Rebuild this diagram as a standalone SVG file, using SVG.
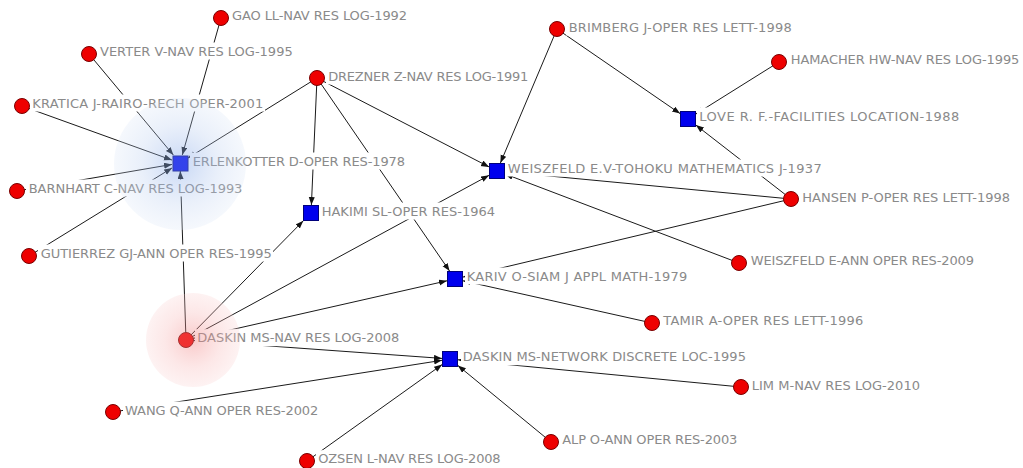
<svg xmlns="http://www.w3.org/2000/svg" width="1023" height="468" viewBox="0 0 1023 468">
<defs>
<marker id="arr" markerUnits="userSpaceOnUse" markerWidth="9" markerHeight="7" refX="8" refY="3" orient="auto">
<path d="M0,0 L8,3 L0,6 z" fill="#111"/>
</marker>
<radialGradient id="gBlue">
<stop offset="0" stop-color="#7aa0e6" stop-opacity="0.42"/>
<stop offset="0.6" stop-color="#b3c9ee" stop-opacity="0.28"/>
<stop offset="1" stop-color="#d8e4f6" stop-opacity="0.25"/>
</radialGradient>
<radialGradient id="gRed">
<stop offset="0" stop-color="#f07878" stop-opacity="0.4"/>
<stop offset="0.6" stop-color="#f6acac" stop-opacity="0.28"/>
<stop offset="1" stop-color="#fad2d2" stop-opacity="0.28"/>
</radialGradient>
</defs>
<style>
.e{stroke:#1a1a1a;stroke-width:1;fill:none;marker-end:url(#arr)}
.bg{fill:#fff}
.t{font-family:"DejaVu Sans","Liberation Sans",sans-serif;font-size:13px;fill:#8a8a8a}
.c{fill:#ee0000;stroke:#7a0000;stroke-width:1}
.s{fill:#0000ee;stroke:#00007a;stroke-width:1}
</style>
<rect width="1023" height="468" fill="#fff"/>
<g id="connectors">
<line class="e" x1="221" y1="18" x2="182.3" y2="155"/>
<line class="e" x1="89" y1="54" x2="173.4" y2="155.1"/>
<line class="e" x1="22" y1="106" x2="172" y2="160.1"/>
<line class="e" x1="17" y1="191" x2="172" y2="164.4"/>
<line class="e" x1="29" y1="256" x2="172.1" y2="167.9"/>
<line class="e" x1="317" y1="78" x2="187.9" y2="158.1"/>
<line class="e" x1="317" y1="78" x2="311.4" y2="205"/>
<line class="e" x1="317" y1="78" x2="449.6" y2="271.1"/>
<line class="e" x1="317" y1="78" x2="489.1" y2="166.9"/>
<line class="e" x1="557" y1="29" x2="500.4" y2="163"/>
<line class="e" x1="557" y1="29" x2="680.1" y2="113.6"/>
<line class="e" x1="779" y1="62" x2="695.9" y2="114"/>
<line class="e" x1="791" y1="199" x2="695.9" y2="125.1"/>
<line class="e" x1="791" y1="199" x2="505" y2="171.8"/>
<line class="e" x1="791" y1="199" x2="463" y2="277.1"/>
<line class="e" x1="739" y1="263" x2="505" y2="174"/>
<line class="e" x1="186" y1="340" x2="180.3" y2="171"/>
<line class="e" x1="186" y1="340" x2="303.3" y2="220.8"/>
<line class="e" x1="186" y1="340" x2="489.1" y2="175.3"/>
<line class="e" x1="186" y1="340" x2="447" y2="280.8"/>
<line class="e" x1="186" y1="340" x2="442" y2="358.4"/>
<line class="e" x1="652" y1="323" x2="463" y2="280.8"/>
<line class="e" x1="113" y1="412" x2="442" y2="360.3"/>
<line class="e" x1="307" y1="461" x2="442.1" y2="364.6"/>
<line class="e" x1="551" y1="442" x2="457.9" y2="365.5"/>
<line class="e" x1="741" y1="387" x2="458" y2="359.8"/>
</g>
<g id="labels">
<rect class="bg" x="230" y="6.5" width="179" height="17"/><text class="t" x="232" y="19.7" textLength="175" lengthAdjust="spacing">GAO LL-NAV RES LOG-1992</text>
<rect class="bg" x="98" y="42.5" width="197" height="17"/><text class="t" x="100" y="55.7" textLength="192.7" lengthAdjust="spacing">VERTER V-NAV RES LOG-1995</text>
<rect class="bg" x="326" y="67.5" width="204" height="17"/><text class="t" x="328.3" y="80.7" textLength="200" lengthAdjust="spacing">DREZNER Z-NAV RES LOG-1991</text>
<rect class="bg" x="30" y="94.5" width="235" height="17"/><text class="t" x="32.3" y="107.7" textLength="231" lengthAdjust="spacing">KRATICA J-RAIRO-RECH OPER-2001</text>
<rect class="bg" x="190" y="152.5" width="217" height="17"/><text class="t" x="192.7" y="165.7" textLength="212.3" lengthAdjust="spacing">ERLENKOTTER D-OPER RES-1978</text>
<rect class="bg" x="26" y="179.5" width="218" height="17"/><text class="t" x="28.7" y="192.7" textLength="213.7" lengthAdjust="spacing">BARNHART C-NAV RES LOG-1993</text>
<rect class="bg" x="320" y="202.5" width="177" height="17"/><text class="t" x="321.7" y="215.7" textLength="173.3" lengthAdjust="spacing">HAKIMI SL-OPER RES-1964</text>
<rect class="bg" x="38" y="244.5" width="235" height="17"/><text class="t" x="40.7" y="257.7" textLength="231" lengthAdjust="spacing">GUTIERREZ GJ-ANN OPER RES-1995</text>
<rect class="bg" x="566" y="18.5" width="227" height="17"/><text class="t" x="568.7" y="31.7" textLength="223" lengthAdjust="spacing">BRIMBERG J-OPER RES LETT-1998</text>
<rect class="bg" x="505" y="159.5" width="318" height="17"/><text class="t" x="507.7" y="172.7" textLength="314" lengthAdjust="spacing">WEISZFELD E.V-TOHOKU MATHEMATICS J-1937</text>
<rect class="bg" x="788" y="50.5" width="233" height="17"/><text class="t" x="790.7" y="63.7" textLength="228.7" lengthAdjust="spacing">HAMACHER HW-NAV RES LOG-1995</text>
<rect class="bg" x="697" y="107.5" width="264" height="17"/><text class="t" x="699.3" y="120.7" textLength="260" lengthAdjust="spacing">LOVE R. F.-FACILITIES LOCATION-1988</text>
<rect class="bg" x="800" y="188.5" width="212" height="17"/><text class="t" x="802.3" y="201.7" textLength="207.7" lengthAdjust="spacing">HANSEN P-OPER RES LETT-1998</text>
<rect class="bg" x="748" y="251.5" width="228" height="17"/><text class="t" x="750.7" y="264.7" textLength="223.3" lengthAdjust="spacing">WEISZFELD E-ANN OPER RES-2009</text>
<rect class="bg" x="465" y="267.5" width="224" height="17"/><text class="t" x="466.7" y="280.7" textLength="220.7" lengthAdjust="spacing">KARIV O-SIAM J APPL MATH-1979</text>
<rect class="bg" x="661" y="312.2" width="204" height="17"/><text class="t" x="663.3" y="325.4" textLength="200" lengthAdjust="spacing">TAMIR A-OPER RES LETT-1996</text>
<rect class="bg" x="461" y="348.2" width="287" height="17"/><text class="t" x="462.7" y="361.4" textLength="283.3" lengthAdjust="spacing">DASKIN MS-NETWORK DISCRETE LOC-1995</text>
<rect class="bg" x="749" y="376.5" width="173" height="17"/><text class="t" x="751.7" y="389.7" textLength="168.3" lengthAdjust="spacing">LIM M-NAV RES LOG-2010</text>
<rect class="bg" x="560" y="430.8" width="179" height="17"/><text class="t" x="562.3" y="444" textLength="175" lengthAdjust="spacing">ALP O-ANN OPER RES-2003</text>
<rect class="bg" x="195" y="329.2" width="206" height="17"/><text class="t" x="197.3" y="342.4" textLength="202" lengthAdjust="spacing">DASKIN MS-NAV RES LOG-2008</text>
<rect class="bg" x="123" y="401.5" width="197" height="17"/><text class="t" x="125" y="414.7" textLength="193.3" lengthAdjust="spacing">WANG Q-ANN OPER RES-2002</text>
<rect class="bg" x="316" y="450.2" width="187" height="17"/><text class="t" x="318.3" y="463.4" textLength="182.3" lengthAdjust="spacing">OZSEN L-NAV RES LOG-2008</text>
</g>
<g id="n-gao"><circle class="c" cx="221" cy="18" r="7.5"/></g>
<g id="n-verter"><circle class="c" cx="89" cy="54" r="7.5"/></g>
<g id="n-drezner"><circle class="c" cx="317" cy="78" r="7.5"/></g>
<g id="n-kratica"><circle class="c" cx="22" cy="106" r="7.5"/></g>
<g id="n-barnhart"><circle class="c" cx="17" cy="191" r="7.5"/></g>
<g id="n-gutierrez"><circle class="c" cx="29" cy="256" r="7.5"/></g>
<g id="n-brimberg"><circle class="c" cx="557" cy="29" r="7.5"/></g>
<g id="n-hamacher"><circle class="c" cx="779" cy="62" r="7.5"/></g>
<g id="n-hansen"><circle class="c" cx="791" cy="199" r="7.5"/></g>
<g id="n-weiszfeld2009"><circle class="c" cx="739" cy="263" r="7.5"/></g>
<g id="n-daskin2008"><circle class="c" cx="186" cy="340" r="7.5"/></g>
<g id="n-tamir"><circle class="c" cx="652" cy="323" r="7.5"/></g>
<g id="n-lim"><circle class="c" cx="741" cy="387" r="7.5"/></g>
<g id="n-wang"><circle class="c" cx="113" cy="412" r="7.5"/></g>
<g id="n-ozsen"><circle class="c" cx="307" cy="461" r="7.5"/></g>
<g id="n-alp"><circle class="c" cx="551" cy="442" r="7.5"/></g>
<g id="n-erlenkotter"><rect class="s" x="173" y="156" width="15" height="15"/></g>
<g id="n-hakimi"><rect class="s" x="303.5" y="205.5" width="15" height="15"/></g>
<g id="n-weiszfeld1937"><rect class="s" x="489.5" y="163.5" width="15" height="15"/></g>
<g id="n-love"><rect class="s" x="680.5" y="111.5" width="15" height="15"/></g>
<g id="n-kariv"><rect class="s" x="447.5" y="271.5" width="15" height="15"/></g>
<g id="n-daskin1995"><rect class="s" x="442.5" y="351.5" width="15" height="15"/></g>
<g id="highlights">
<circle cx="180" cy="164" r="66" fill="url(#gBlue)"/>
<circle cx="193" cy="340" r="47" fill="url(#gRed)"/>
</g>
</svg>
